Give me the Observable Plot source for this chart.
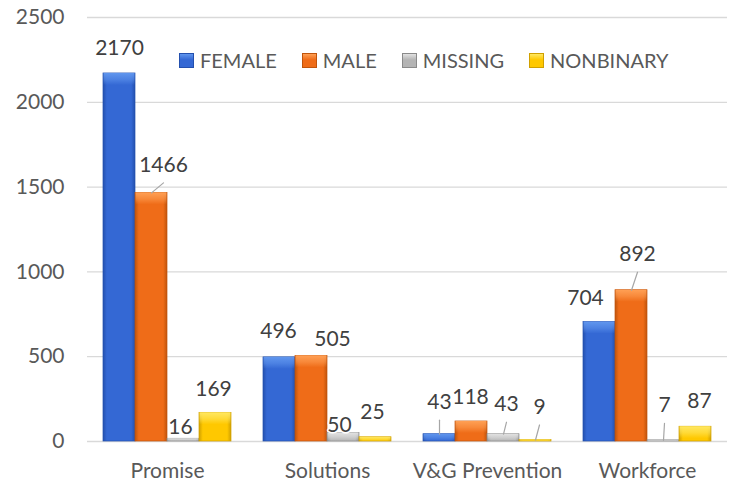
<!DOCTYPE html>
<html>
<head>
<meta charset="utf-8">
<script src="https://cdn.jsdelivr.net/npm/d3@7"></script>
<script src="https://cdn.jsdelivr.net/npm/@observablehq/plot@0.6"></script>
<style>
  body { margin: 0; background: #fff; }
  #wrap { position: relative; width: 731px; height: 484px; font-family: Lato, "Open Sans", sans-serif; }
  #legend { position: absolute; left: 179px; top: 50px; display: flex; align-items: center;
            font-size: 20px; line-height: 21px; color: #595959; white-space: nowrap; }
  .item { display: flex; align-items: center; margin-right: 25px; }
  .sw { width: 15px; height: 15px; margin-right: 6px; box-sizing: border-box; }
</style>
</head>
<body>
<div id="wrap"><div id="legend"></div></div>
<script>
// ---- data ----
const groups = ["Promise", "Solutions", "V&G Prevention", "Workforce"];
const seriesNames = ["FEMALE", "MALE", "MISSING", "NONBINARY"];
const femaleValues    = [2170, 496, 43, 704];
const maleValues      = [1466, 505, 118, 892];
const missingValues   = [16, 50, 43, 7];
const nonbinaryValues = [169, 25, 9, 87];
const yTicks = [0, 500, 1000, 1500, 2000, 2500];

// ---- label layout (pixel nudges from bar top centre, leader line flag) ----
const femaleNudge    = [[0, -25, 0], [-1, -26, 0], [0, -32, 1], [-14, -24, 0]];
const maleNudge      = [[12, -28, 1], [21, -17, 0], [-1, -24, 0], [6, -36, 1]];
const missingNudge   = [[-3, -12, 0], [-4, -8, 0], [3, -30, 1], [1, -35, 1]];
const nonbinaryNudge = [[-2, -24, 0], [-3, -25, 0], [4, -33, 1], [4, -25, 0]];

// ---- styles ----
const palette = [
  {id: "f", edge: "#2450AE", body: "#3468D4", light: "#6096EE"},
  {id: "m", edge: "#C0540C", body: "#EF6C18", light: "#FFA055"},
  {id: "x", edge: "#8A8A8A", body: "#B4B4B4", light: "#E2E2E2"},
  {id: "n", edge: "#D0A000", body: "#FFC800", light: "#FFE862"}
];

const valueArrays = [femaleValues, maleValues, missingValues, nonbinaryValues];
const nudgeArrays = [femaleNudge, maleNudge, missingNudge, nonbinaryNudge];

const table = groups.flatMap((g, i) => seriesNames.map((s, j) => ({
  group: g, series: s, si: j, value: valueArrays[j][i], nudge: nudgeArrays[j][i]
})));

const capUnits = 2500 * 12 / 424; // ~12px bevel at the top

const marks = [Plot.gridY(yTicks, {stroke: "#D9D9D9", strokeOpacity: 1, strokeWidth: 1.3})];

seriesNames.forEach((s, j) => {
  const sub = table.filter(d => d.series === s);
  marks.push(Plot.barY(sub, {fx: "group", x: "series", y: "value",
    fill: `url(#body-${palette[j].id})`, stroke: palette[j].edge, strokeWidth: 0.7}));
  marks.push(Plot.barY(sub, {fx: "group", x: "series",
    y1: d => Math.max(0, d.value - capUnits), y2: "value",
    fill: `url(#cap-${palette[j].id})`, insetLeft: 0.5, insetRight: 0.5}));
});

const lineShape = {draw(context, l) { context.moveTo(0, 0); context.lineTo(0, -l); }};

table.forEach(d => {
  const [dx, dy, leader] = d.nudge;
  if (leader) {
    const ex = dx, ey = dy + 18;
    marks.push(Plot.vector([d], {fx: "group", x: "series", y: "value", anchor: "start",
      length: Math.hypot(ex, ey), rotate: Math.atan2(ex, -ey) * 180 / Math.PI,
      shape: lineShape, stroke: "#A6A6A6", strokeWidth: 1.2}));
  }
  marks.push(Plot.text([d], {fx: "group", x: "series", y: "value", text: d => String(d.value),
    dx, dy, fontSize: 21, fill: "#404040", stroke: "white", strokeWidth: 3}));
});

marks.push(Plot.axisY(yTicks, {tickSize: 0, tickPadding: 23, fontSize: 21, label: null,
  fill: "#595959", tickFormat: d => String(d)}));
marks.push(Plot.axisFx({anchor: "bottom", tickSize: 0, tickPadding: 22, fontSize: 21, label: null, fill: "#595959"}));

const chart = Plot.plot({
  width: 731, height: 484,
  marginLeft: 86, marginRight: 4, marginTop: 17, marginBottom: 43,
  style: {fontFamily: "Lato, 'Open Sans', sans-serif", fontSize: "21px", color: "#595959", background: "transparent", overflow: "visible"},
  fx: {domain: groups, padding: 0, label: null, axis: null},
  x: {domain: seriesNames, paddingInner: 0, paddingOuter: 0.465, axis: null},
  y: {domain: [0, 2500], label: null},
  marks
});

// gradients for the bevelled look
const defs = d3.select(chart).insert("defs", ":first-child");
palette.forEach(p => {
  const b = defs.append("linearGradient").attr("id", `body-${p.id}`).attr("x1", 0).attr("x2", 1).attr("y1", 0).attr("y2", 0);
  [[0, p.edge], [0.12, p.body], [0.5, p.body], [0.88, p.body], [1, p.edge]].forEach(([o, c]) =>
    b.append("stop").attr("offset", o).attr("stop-color", c));
  const c = defs.append("linearGradient").attr("id", `cap-${p.id}`).attr("x1", 0).attr("x2", 0).attr("y1", 0).attr("y2", 1);
  [[0, p.light, 1], [0.55, p.light, 0.55], [1, p.light, 0]].forEach(([o, col, op]) =>
    c.append("stop").attr("offset", o).attr("stop-color", col).attr("stop-opacity", op));
});

document.getElementById("wrap").prepend(chart);

// legend
const legend = d3.select("#legend");
seriesNames.forEach((s, j) => {
  const p = palette[j];
  const it = legend.append("div").attr("class", "item");
  it.append("div").attr("class", "sw")
    .style("background", `linear-gradient(180deg, ${p.light} 0%, ${p.body} 45%, ${p.body} 100%)`)
    .style("border", `1px solid ${p.edge}`);
  it.append("span").text(s);
});
</script>
</body>
</html>
